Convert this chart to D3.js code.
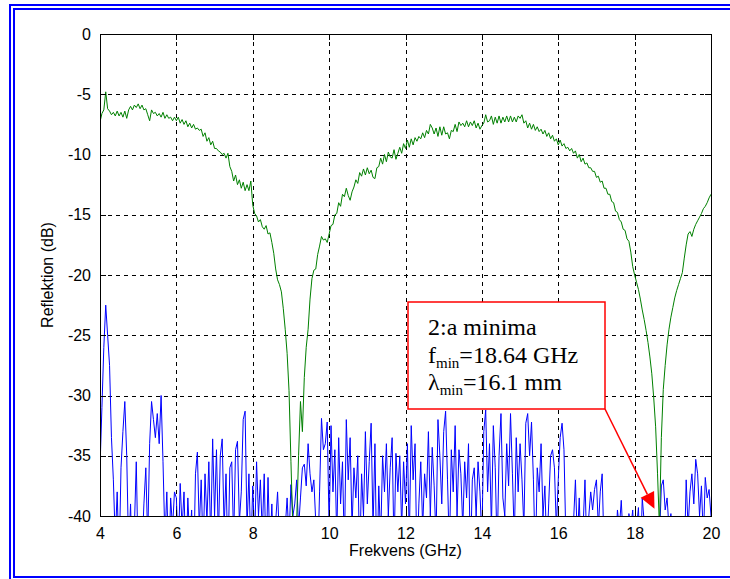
<!DOCTYPE html>
<html lang="sv">
<head>
    <meta charset="UTF-8">
    <title>Reflektion</title>
    <script src="https://d3js.org/d3.v7.min.js"></script>
    <style>
        body { margin: 0; background: #fff; overflow: hidden; }
        .axis text { font-family: "Liberation Sans", Arial, sans-serif; font-size: 16px; fill: #000; }
        .axis path, .axis line { stroke: #000; shape-rendering: crispEdges; }
        .grid line { stroke: #000; stroke-dasharray: 4,4; shape-rendering: crispEdges; }
        .label { font-family: "Liberation Sans", Arial, sans-serif; font-size: 16px; }
        .note { font-family: "Liberation Serif", "Times New Roman", serif; font-size: 24px; }
    </style>
</head>
<body>
<div id="chart"></div>
<script>
    // frekvens 4-20 GHz, steg 0.05 GHz
    const fStart = 4, fStep = 0.05;

    // uppmätt reflektion (grön)
    const reflektion = [
        -7.3,-6.6,-6.3,-4.8,-6.2,-6.4,-6.7,-6.5,-6.8,-6.4,-6.8,-6.5,-6.9,-6.4,-7.0,-6.3,-6.0,-6.3,-5.9,-6.1,
        -5.8,-6.2,-5.9,-6.3,-6.2,-6.7,-7.2,-6.3,-6.6,-6.5,-6.8,-6.6,-6.9,-6.5,-7.0,-6.7,-7.0,-6.9,-7.2,-6.9,
        -7.2,-6.9,-7.4,-7.1,-7.5,-7.2,-7.7,-7.4,-7.8,-7.5,-7.9,-7.8,-8.0,-7.9,-8.5,-8.2,-8.9,-8.6,-9.2,-8.9,
        -9.5,-9.5,-9.7,-9.8,-10.0,-9.9,-10.3,-9.9,-11.0,-11.4,-12.2,-11.7,-12.5,-12.1,-12.8,-12.3,-13.0,-12.5,-13.0,-12.2,
        -14.2,-14.9,-15.1,-15.6,-15.4,-16.0,-16.2,-15.9,-16.6,-16.5,-17.3,-18.2,-19.5,-20.4,-20.8,-21.4,-22.8,-24.5,-26.5,-29.6,
        -35.5,-41,-45,-40.5,-35,-30.5,-33,-28.5,-26,-24.5,-22,-20.3,-19.6,-19.5,-18.3,-17.6,-16.8,-17.1,-17.0,-17.3,
        -16.6,-15.9,-15.8,-15.0,-14.9,-14.0,-14.3,-13.3,-13.5,-12.8,-13.4,-13.8,-13.1,-12.7,-12.1,-12.4,-11.5,-11.8,-11.2,-11.7,
        -11.1,-11.6,-11.3,-11.9,-12.0,-11.1,-11.0,-10.3,-10.8,-10.0,-10.6,-9.8,-10.2,-10.3,-9.6,-10.4,-9.9,-9.4,-9.9,-9.1,
        -9.5,-8.8,-9.4,-8.7,-9.2,-8.6,-8.9,-8.5,-8.7,-8.2,-8.6,-8.0,-8.3,-7.5,-7.8,-8.3,-7.8,-8.5,-7.7,-8.4,
        -7.7,-8.3,-8.2,-8.7,-8.0,-8.1,-7.5,-8.1,-7.3,-7.6,-7.4,-7.7,-7.2,-7.7,-7.3,-7.6,-7.2,-7.8,-7.4,-7.9,
        -7.6,-7.4,-6.7,-7.3,-7.2,-6.8,-7.5,-6.9,-7.4,-6.8,-7.4,-6.9,-7.3,-6.8,-7.3,-6.8,-7.3,-6.9,-7.3,-6.8,
        -7.0,-6.7,-7.4,-7.2,-7.8,-7.4,-7.9,-7.5,-8.0,-7.7,-8.1,-7.9,-8.3,-8.0,-8.5,-8.2,-8.7,-8.4,-8.9,-8.7,
        -9.2,-8.8,-9.3,-9.1,-9.5,-9.4,-9.7,-9.5,-9.9,-9.7,-10.3,-10.0,-10.6,-10.3,-10.8,-10.7,-11.1,-11.1,-11.4,-11.4,
        -11.9,-11.8,-12.3,-12.2,-12.8,-12.8,-13.3,-13.3,-13.9,-14.0,-14.7,-14.8,-15.4,-15.6,-16.2,-16.3,-17.0,-17.2,-18.1,-19.3,
        -20.0,-20.6,-21.2,-22.0,-22.9,-23.7,-24.6,-25.6,-26.8,-28.2,-30.2,-32.6,-36.5,-41.0,-33.5,-29.5,-27.5,-25.8,-24.5,-23.5,
        -22.7,-21.9,-21.3,-20.8,-20.3,-19.8,-18.6,-17.5,-16.6,-16.4,-16.8,-16.2,-15.8,-15.5,-15.2,-14.9,-14.5,-14.3,-14.0,-13.6,
        -13.3
    ];

    // referens / brus (blå)
    const brus = [
        -36,-31,-26,-22.5,-25,-27.5,-33.5,-37,-42,-38,-44,-36,-33,-30.5,-35,-43,-39,-45,-41,-35.5,
        -44,-40,-43,-39,-36,-42,-34,-30.5,-32,-33.5,-31.5,-34,-30,-35.5,-42,-38,-44,-38.5,-41,-38,
        -38.5,-43,-37.3,-41,-38,-44,-38.5,-42,-39.5,-45,-36.5,-34.7,-41,-37,-43,-36.5,-40.5,-35.5,-42,-33.6,
        -40,-34.5,-42,-35,-33.6,-41,-36.5,-44,-36,-35.5,-42,-34.5,-33.8,-40.5,-38,-32,-31.3,-41,-36.5,-43,
        -37.5,-42,-35.5,-40,-37,-41.5,-36.5,-44,-36.8,-43,-39,-44,-40.5,-38,-42,-40,-45,-41,-38.5,-42,
        -37.4,-40,-39,-37,-41,-38.5,-36,-35.7,-37.5,-34,-36.5,-38,-37,-40.5,-44,-38,-31.9,-34.5,-34,-32.2,
        -41,-32.5,-38,-34.5,-42,-33.5,-39,-35.5,-43,-32,-37,-33.5,-41,-36,-38.5,-35,-44,-36.5,-40,-33,
        -39,-35.5,-32.3,-41,-34,-45,-37.5,-42,-35,-38,-34,-40,-36,-33.5,-43,-34.8,-38,-35,-41,-35.5,
        -39,-34,-42,-32.5,-37,-34,-44,-39,-35.5,-41,-36.5,-38.5,-33,-40,-34.3,-37.5,-42,-32,-35,-39,
        -33,-31.3,-37,-43,-34.5,-38,-32.5,-40,-34.5,-36.5,-41,-35.5,-38.5,-34,-44,-37,-36,-40,-35.5,-38,
        -42,-33,-31.2,-38,-34,-41,-32.5,-36,-43,-35,-31.5,-38.5,-40,-34,-37.5,-31.5,-36.5,-42,-33.5,-38,
        -34,-37,-41,-32.3,-31.5,-35,-32.2,-37,-44,-36,-38,-34,-40,-37.5,-43,-39,-35,-34.5,-36,-41,
        -37,-33.5,-32.3,-34.5,-42,-45,-41,-44,-40.5,-37,-42,-38.5,-44,-41,-37,-43,-40,-38,-39.5,-37.8,
        -37,-41,-38,-36.5,-43,-40.5,-46,-42,-44,-40.5,-43,-39.5,-41,-38.7,-42,-40.5,-45,-39.8,-41,-39.5,
        -43,-41,-39.3,-44,-38.5,-40.5,-45,-42,-44,-41,-43,-47,-45,-42,-37.5,-37,-39.5,-38.5,-41,-39.8,
        -42,-44,-46,-43,-45,-42,-44,-37,-41,-38,-36.5,-39,-35.3,-36.5,-40,-37.5,-42,-36.8,-38.5,-37.8,
        -40
    ];

    const xTicks = [4, 6, 8, 10, 12, 14, 16, 18, 20];
    const yTicks = [0, -5, -10, -15, -20, -25, -30, -35, -40];

    const noteLines = [
        { main: "2:a minima", sub: "", rest: "" },
        { main: "f", sub: "min", rest: "=18.64 GHz" },
        { main: "\u03bb", sub: "min", rest: "=16.1 mm" }
    ];
    const arrowTip = { f: 18.52, db: -39.4 };

    const W = 730, H = 579;
    const svg = d3.select("#chart").append("svg")
        .attr("width", W).attr("height", H);

    // dubbel blå ram
    svg.append("rect").attr("x", 10).attr("y", 5).attr("width", 740).attr("height", 600)
        .attr("fill", "none").attr("stroke", "#0000ff").attr("stroke-width", 2);
    svg.append("rect").attr("x", 14).attr("y", 9).attr("width", 740).attr("height", 568)
        .attr("fill", "none").attr("stroke", "#0000ff").attr("stroke-width", 2);

    const x = d3.scaleLinear().domain([4, 20]).range([100, 711]);
    const y = d3.scaleLinear().domain([-40, 0]).range([516, 34]);

    // rutnät
    const grid = svg.append("g").attr("class", "grid");
    grid.selectAll(".gx").data(xTicks.slice(1, -1)).enter().append("line")
        .attr("x1", d => Math.round(x(d)) + 0.5).attr("x2", d => Math.round(x(d)) + 0.5)
        .attr("y1", y(0)).attr("y2", y(-40));
    grid.selectAll(".gy").data(yTicks.slice(1, -1)).enter().append("line")
        .attr("x1", x(4)).attr("x2", x(20))
        .attr("y1", d => Math.round(y(d)) + 0.5).attr("y2", d => Math.round(y(d)) + 0.5);

    svg.append("clipPath").attr("id", "clip").append("rect")
        .attr("x", x(4)).attr("y", y(0)).attr("width", x(20) - x(4)).attr("height", y(-40) - y(0));

    const line = d3.line()
        .x((d, i) => x(fStart + i * fStep))
        .y(d => y(d));

    const plot = svg.append("g").attr("clip-path", "url(#clip)");
    plot.append("path").datum(brus)
        .attr("d", line).attr("fill", "none").attr("stroke", "#0000ff").attr("stroke-width", 1);
    plot.append("path").datum(reflektion)
        .attr("d", line).attr("fill", "none").attr("stroke", "#008000").attr("stroke-width", 1);

    // axlar med inåtriktade streck, box runt om
    svg.append("g").attr("class", "axis")
        .attr("transform", `translate(0,${y(-40)})`)
        .call(d3.axisBottom(x).tickValues(xTicks).tickSizeInner(-6).tickSizeOuter(0).tickPadding(12)
            .tickFormat(d => d));
    svg.append("g").attr("class", "axis")
        .attr("transform", `translate(${x(4)},0)`)
        .call(d3.axisLeft(y).tickValues(yTicks).tickSizeInner(-6).tickSizeOuter(0).tickPadding(9)
            .tickFormat(d => d));
    svg.append("g").attr("class", "axis")
        .attr("transform", `translate(0,${y(0)})`)
        .call(d3.axisTop(x).tickValues(xTicks).tickSizeInner(-6).tickSizeOuter(0).tickFormat(""));
    svg.append("g").attr("class", "axis")
        .attr("transform", `translate(${x(20)},0)`)
        .call(d3.axisRight(y).tickValues(yTicks).tickSizeInner(-6).tickSizeOuter(0).tickFormat(""));
    svg.selectAll(".axis .domain").attr("stroke-width", 1.5);

    svg.append("text").attr("class", "label")
        .attr("transform", `translate(53,${(y(0) + y(-40)) / 2}) rotate(-90)`)
        .attr("text-anchor", "middle").text("Reflektion (dB)");
    svg.append("text").attr("class", "label")
        .attr("x", (x(4) + x(20)) / 2).attr("y", 556)
        .attr("text-anchor", "middle").text("Frekvens (GHz)");

    // anteckning
    const box = { x: 408, y: 302, w: 197, h: 107 };
    const tip = [x(arrowTip.f), y(arrowTip.db)];
    const start = [box.x + box.w, box.y + box.h];
    const ang = Math.atan2(tip[1] - start[1], tip[0] - start[0]);
    const hl = 16, hw = 7.5;
    const base = [tip[0] - hl * Math.cos(ang), tip[1] - hl * Math.sin(ang)];
    svg.append("line")
        .attr("x1", start[0]).attr("y1", start[1]).attr("x2", base[0]).attr("y2", base[1])
        .attr("stroke", "#ff0000").attr("stroke-width", 1.5);
    svg.append("polygon")
        .attr("points", [
            tip,
            [base[0] + hw * Math.sin(ang), base[1] - hw * Math.cos(ang)],
            [base[0] - hw * Math.sin(ang), base[1] + hw * Math.cos(ang)]
        ].map(p => p.join(",")).join(" "))
        .attr("fill", "#ff0000");

    svg.append("rect")
        .attr("x", box.x).attr("y", box.y).attr("width", box.w).attr("height", box.h)
        .attr("fill", "#fff").attr("stroke", "#ff0000").attr("stroke-width", 1.5);

    const note = svg.append("g");
    noteLines.forEach((l, i) => {
        const t = note.append("text").attr("class", "note")
            .attr("x", 428).attr("y", 335 + i * 27.5);
        t.append("tspan").text(l.main);
        if (l.sub) {
            t.append("tspan").attr("dy", 5).attr("font-size", 15).text(l.sub);
            t.append("tspan").attr("dy", -5).text(l.rest);
        }
    });
</script>
</body>
</html>
